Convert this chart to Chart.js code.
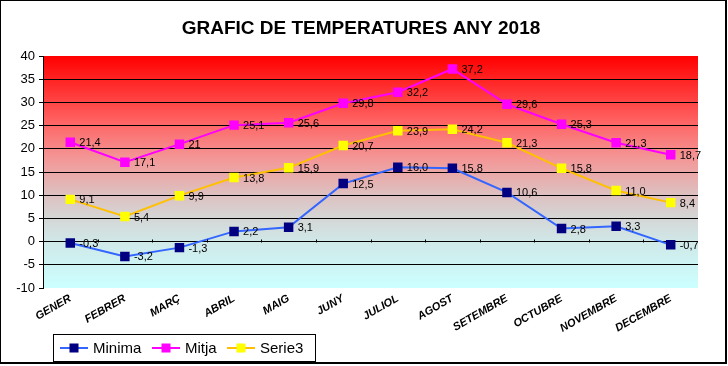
<!DOCTYPE html>
<html>
<head>
<meta charset="utf-8">
<script src="https://cdn.jsdelivr.net/npm/chart.js@4.4.1/dist/chart.umd.min.js"></script>
<style>
  html, body { margin: 0; padding: 0; background: #fff; }
  #wrap { width: 728px; height: 366px; position: relative; }
  canvas { display: block; }
</style>
</head>
<body>
<div id="wrap"><canvas id="c" width="728" height="366"></canvas></div>
<script>
const chartTitle = 'GRAFIC DE TEMPERATURES ANY 2018';
const categories = ['GENER','FEBRER','MARÇ','ABRIL','MAIG','JUNY','JULIOL','AGOST','SETEMBRE','OCTUBRE','NOVEMBRE','DECEMBRE'];
const seriesNames = ['Minima','Mitja','Serie3'];
const minima = [-0.3, -3.2, -1.3, 2.2, 3.1, 12.5, 16.0, 15.8, 10.6, 2.8, 3.3, -0.7];
const mitja  = [21.4, 17.1, 21, 25.1, 25.6, 29.8, 32.2, 37.2, 29.6, 25.3, 21.3, 18.7];
const serie3 = [9.1, 5.4, 9.9, 13.8, 15.9, 20.7, 23.9, 24.2, 21.3, 15.8, 11.0, 8.4];
const minimaLabels = ['-0,3','-3,2','-1,3','2,2','3,1','12,5','16,0','15,8','10,6','2,8','3,3','-0,7'];
const mitjaLabels  = ['21,4','17,1','21','25,1','25,6','29,8','32,2','37,2','29,6','25,3','21,3','18,7'];
const serie3Labels = ['9,1','5,4','9,9','13,8','15,9','20,7','23,9','24,2','21,3','15,8','11,0','8,4'];
const yMin = -10, yMax = 40, yStep = 5;

const FONT = '"Liberation Sans", Arial, sans-serif';

function mkDataset(label, data, labels, lineColor, markColor) {
  return {
    label, data, pointLabels: labels,
    borderColor: lineColor, backgroundColor: markColor,
    borderWidth: 2, tension: 0,
    pointStyle: 'rect', pointRadius: 6.7, pointHoverRadius: 6.7,
    pointBackgroundColor: markColor, pointBorderColor: markColor, pointBorderWidth: 0
  };
}

const bgPlugin = {
  id: 'bg',
  beforeDraw(chart) {
    const ctx = chart.ctx, a = chart.chartArea, y = chart.scales.y;
    ctx.save();
    ctx.fillStyle = '#fff';
    ctx.fillRect(0, 0, chart.width, chart.height);
    const top = y.getPixelForValue(yMax), bot = y.getPixelForValue(yMin);
    const g = ctx.createLinearGradient(0, top, 0, bot);
    const stops = [[40,'#ff0000'],[33,'#ff3030'],[26,'#ff6262'],[18,'#f49696'],[11,'#e0bcbc'],[6,'#d6d2d2'],[0,'#d0e8e8'],[-10,'#ccffff']];
    stops.forEach(([v,c]) => g.addColorStop((yMax - v)/(yMax - yMin), c));
    ctx.fillStyle = g;
    ctx.fillRect(a.left, top, a.right - a.left, bot - top);
    ctx.restore();
  },
  afterDatasetsDraw(chart) {
    const ctx = chart.ctx, a = chart.chartArea;
    const ys = chart.scales.y;
    ctx.save();
    const y0 = Math.round(ys.getPixelForValue(0)) + 0.5;
    const step = (a.right - a.left) / categories.length;
    ctx.strokeStyle = '#000'; ctx.lineWidth = 1;
    for (let i = 1; i < categories.length; i++) {
      const x = Math.round(a.left + i * step) + 0.5;
      ctx.beginPath(); ctx.moveTo(x, y0); ctx.lineTo(x, y0 - 3); ctx.stroke();
    }
    ctx.font = '11px ' + FONT;
    ctx.fillStyle = '#000';
    ctx.textAlign = 'left';
    ctx.textBaseline = 'middle';
    chart.data.datasets.forEach((ds, di) => {
      const meta = chart.getDatasetMeta(di);
      meta.data.forEach((pt, i) => {
        ctx.fillText(ds.pointLabels[i], pt.x + 9, pt.y + 1);
      });
    });
    ctx.restore();
  },
  afterDraw(chart) {
    const ctx = chart.ctx;
    ctx.save();
    ctx.font = 'bold 19px ' + FONT;
    ctx.fillStyle = '#000';
    ctx.textAlign = 'center';
    ctx.textBaseline = 'alphabetic';
    ctx.fillText(chartTitle, 361, 34);
    const lx = 53, ly = 334, lw = 262, lh = 27;
    ctx.strokeStyle = '#000'; ctx.lineWidth = 1;
    ctx.strokeRect(lx + 0.5, ly + 0.5, lw, lh);
    const cy = ly + 14;
    const itemX = [60, 152, 227];
    ctx.font = '15px ' + FONT;
    ctx.textAlign = 'left'; ctx.textBaseline = 'middle';
    chart.data.datasets.forEach((ds, i) => {
      const x = itemX[i];
      ctx.strokeStyle = ds.borderColor; ctx.lineWidth = 2;
      ctx.beginPath(); ctx.moveTo(x, cy); ctx.lineTo(x + 28, cy); ctx.stroke();
      ctx.fillStyle = ds.pointBackgroundColor;
      ctx.fillRect(x + 14 - 4.5, cy - 4.5, 9, 9);
      ctx.fillStyle = '#000';
      ctx.fillText(ds.label, x + 33, cy + 1);
    });
    ctx.fillStyle = '#000';
    ctx.fillRect(0, 0, 727, 1);
    ctx.fillRect(0, 0, 1, 364);
    ctx.fillRect(725, 0, 2, 364);
    ctx.fillRect(0, 362, 727, 2);
    ctx.restore();
  }
};

new Chart(document.getElementById('c'), {
  type: 'line',
  data: {
    labels: categories,
    datasets: [
      mkDataset(seriesNames[0], minima, minimaLabels, '#3366ff', '#000080'),
      mkDataset(seriesNames[1], mitja, mitjaLabels, '#ff00ff', '#ff00ff'),
      mkDataset(seriesNames[2], serie3, serie3Labels, '#ffc000', '#ffff00')
    ]
  },
  options: {
    responsive: false,
    animation: false,
    devicePixelRatio: 1,
    layout: { padding: { left: 0, right: 30, top: 56, bottom: 0 } },
    plugins: { legend: { display: false }, title: { display: false }, tooltip: { enabled: false } },
    events: [],
    scales: {
      x: {
        offset: true,
        grid: { display: false },
        border: { display: false },
        ticks: {
          autoSkip: false, minRotation: 30, maxRotation: 30, padding: -4,
          color: '#000', font: { family: FONT, size: 11, weight: 'bold', style: 'italic' }
        },
        afterFit(scale) { scale.height = 78; }
      },
      y: {
        min: yMin, max: yMax,
        grid: {
          color: (c) => (c.tick && (c.tick.value === yMax || c.tick.value === yMin)) ? 'rgba(0,0,0,0)' : '#000',
          tickColor: '#000', tickLength: 4, lineWidth: 1
        },
        border: { display: true, color: '#000', width: 1 },
        ticks: { stepSize: yStep, padding: 4, color: '#000', font: { family: FONT, size: 13 } },
        afterFit(scale) { scale.width = 43; }
      }
    }
  },
  plugins: [bgPlugin]
});
</script>
</body>
</html>
